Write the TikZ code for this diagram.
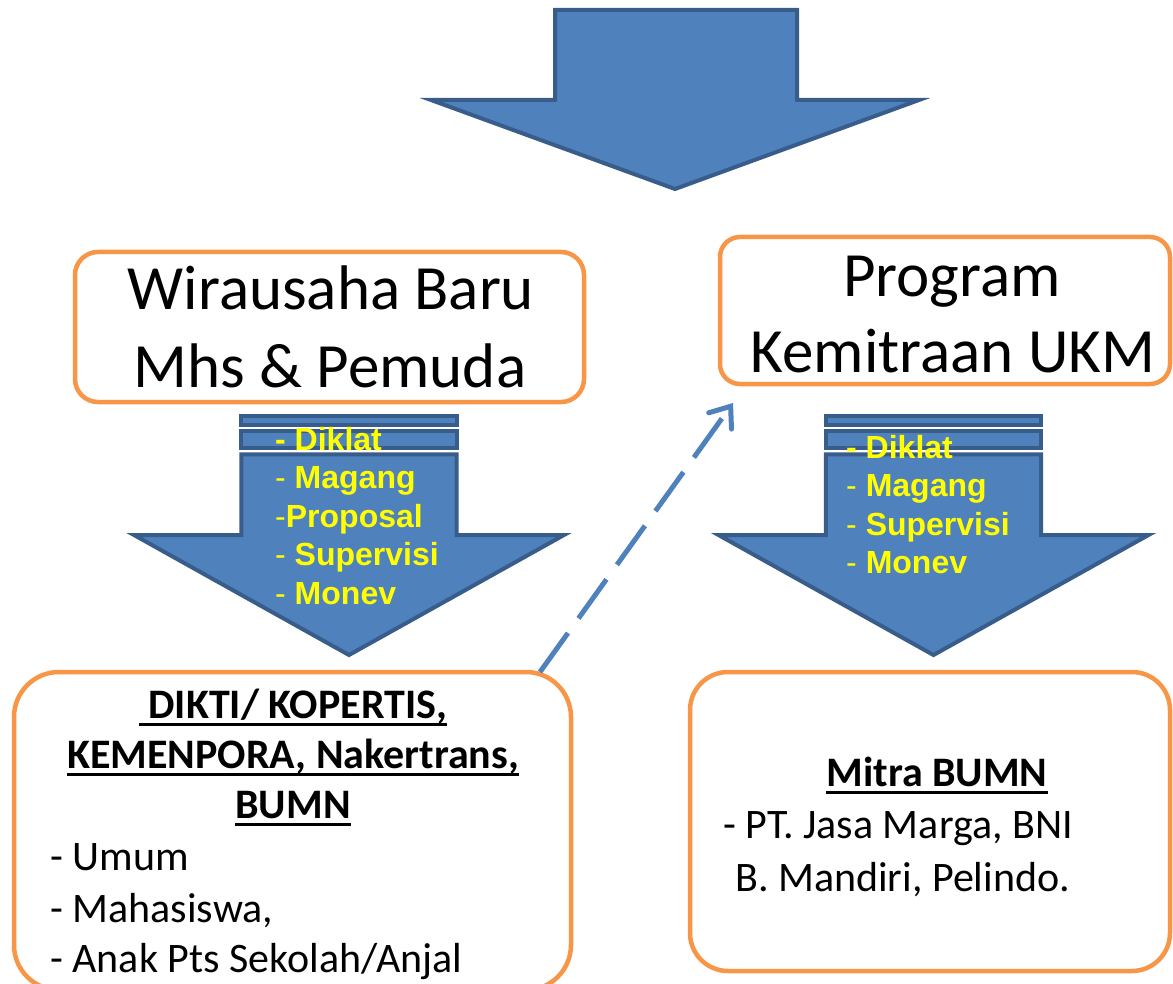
\documentclass[tikz,border=0pt]{standalone}
\usepackage{fontspec}
\setmainfont{Carlito}
\newfontfamily\arialf{Liberation Sans}
\newcommand{\myul}[1]{\setbox0\hbox{#1}\rlap{\rule[-7.5pt]{\wd0}{2.5pt}}\box0}
\usetikzlibrary{arrows.meta}
\definecolor{fillblue}{HTML}{4F81BD}
\definecolor{edgeblue}{HTML}{385D8A}
\definecolor{boxorange}{HTML}{F79646}
\definecolor{txtyellow}{HTML}{FFFF00}
\tikzset{
  bigarrow/.style={fill=fillblue, draw=edgeblue, line width=4pt, line join=miter},
  roundbox/.style={draw=boxorange, line width=4.5pt, fill=white, rounded corners=#1, inner sep=0pt},
  bigtext/.style={font=\fontsize{63}{76}\selectfont, inner sep=0pt, anchor=base},
  midtext/.style={font=\fontsize{42}{50}\selectfont, inner sep=0pt},
  ytext/.style={font=\arialf\fontsize{32}{38}\selectfont, text=txtyellow, inner sep=0pt, anchor=base west},
  dasharrow/.style={draw=fillblue, line width=5pt, dash pattern=on 48pt off 18pt,
    -{Straight Barb[length=18pt,width=28pt,line cap=round]}},
  pics/stripedown/.style={code={
    \draw[bigarrow] (-107.7,416.3) rectangle (107.7,424.7);
    \draw[bigarrow] (-107.7,431) rectangle (107.7,448);
    \draw[bigarrow] (-107.7,454.3) -- (107.7,454.3) -- (107.7,535) -- (215,535)
      -- (0,655) -- (-215,535) -- (-107.7,535) -- cycle;
  }}
}
\begin{document}
\begin{tikzpicture}[x=1pt,y=-1pt]
\useasboundingbox (0,0) rectangle (1173,984);

% top arrow
\draw[bigarrow] (555,10) -- (797,10) -- (797,100) -- (919,100) -- (675,189)
  -- (431,100) -- (555,100) -- cycle;

% striped arrows
\pic (leftarrow) at (349,0) {stripedown};
\pic (rightarrow) at (933.5,0) {stripedown};

% left arrow text
\node[ytext] (l1) at (275,450) {\bfseries - Diklat};
\node[ytext] (l2) at (275,488.5) {- \bfseries Magang};
\node[ytext] (l3) at (275,527) {-\bfseries Proposal};
\node[ytext] (l4) at (275,565.5) {- \bfseries Supervisi};
\node[ytext] (l5) at (275,604) {- \bfseries Monev};

% right arrow text
\node[ytext] (r1) at (846,458) {\bfseries - Diklat};
\node[ytext] (r2) at (846,496.5) {- \bfseries Magang};
\node[ytext] (r3) at (846,535) {- \bfseries Supervisi};
\node[ytext] (r4) at (846,573.5) {- \bfseries Monev};

% upper boxes
\node[roundbox=23pt, minimum width=509pt, minimum height=150pt] (box1) at (329.5,327) {};
\node[bigtext] (b1a) at (331,310) {Wirausaha Baru};
\node[bigtext] (b1b) at (330,388) {Mhs \& Pemuda};

\node[roundbox=20pt, minimum width=450pt, minimum height=147pt] (box2) at (945,310.5) {};
\node[bigtext] (b2a) at (952,297) {Program};
\node[bigtext] (b2b) at (953,372) {Kemitraan UKM};

% lower boxes
\node[roundbox=45pt, minimum width=557pt, minimum height=318pt] (box3) at (292.5,831) {};
\node[midtext, anchor=base] (b3a) at (293,718) {\bfseries\myul{\ DIKTI/ KOPERTIS,}};
\node[midtext, anchor=base] (b3b) at (293,768) {\bfseries\myul{KEMENPORA, Nakertrans,}};
\node[midtext, anchor=base] (b3c) at (293,818) {\bfseries\myul{BUMN}};
\node[midtext, anchor=base west] (b3d) at (50,870) {- Umum};
\node[midtext, anchor=base west] (b3e) at (50,922) {- Mahasiswa,};
\node[midtext, anchor=base west] (b3f) at (50,972) {- Anak Pts Sekolah/Anjal};

\node[roundbox=38pt, minimum width=480pt, minimum height=299pt] (box4) at (930,821.5) {};
\node[midtext, anchor=base] (b4a) at (937,786) {\bfseries\myul{Mitra BUMN}};
\node[midtext, anchor=base west] (b4b) at (723,838) {- PT. Jasa Marga, BNI};
\node[midtext, anchor=base west] (b4c) at (735,891) {B. Mandiri, Pelindo.};

% dashed connector
\coordinate (dstart) at (540,672);
\coordinate (dend) at (733,403);
\draw[dasharrow] (dstart) -- (dend);
\end{tikzpicture}
\end{document}
